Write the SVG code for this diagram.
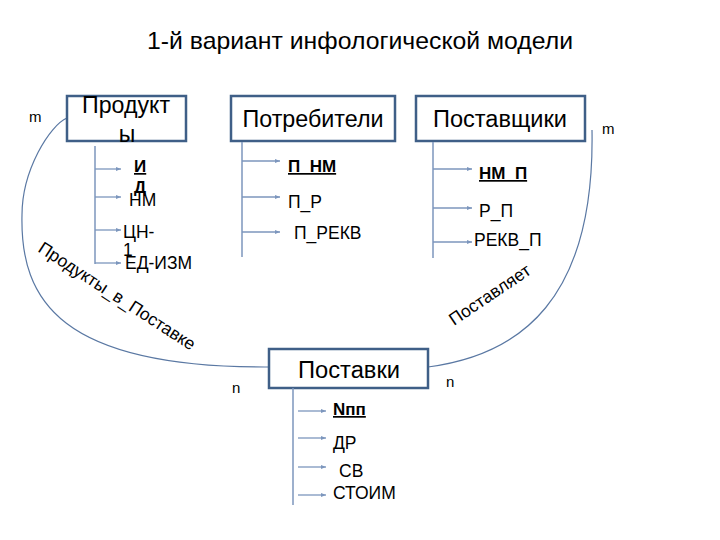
<svg xmlns="http://www.w3.org/2000/svg" width="720" height="540" viewBox="0 0 720 540">
<defs>
<marker id="ah" markerWidth="6" markerHeight="6" refX="5" refY="3" orient="auto" markerUnits="userSpaceOnUse">
<path d="M0,1 L5,3 L0,5 z" fill="#7c96bd"/>
</marker>
<style>
text{font-family:"Liberation Sans",Arial,sans-serif;fill:#000}
.box{fill:#fff;stroke:#3f5f87;stroke-width:2.5}
.bl{font-size:23px;text-anchor:middle}
.at{font-size:17.5px}
.key{font-size:17px;font-weight:bold;text-decoration:underline}
.vl{stroke:#7c96bd;stroke-width:1.5;fill:none}
.ar{stroke:#7c96bd;stroke-width:1.3;fill:none;marker-end:url(#ah)}
.arc{stroke:#5a78a3;stroke-width:1.2;fill:none}
.card{font-size:15px}
.rel{font-size:17.5px}
</style>
</defs>
<rect width="720" height="540" fill="#fff"/>
<text x="360" y="49" font-size="24" text-anchor="middle" textLength="426" lengthAdjust="spacingAndGlyphs">1-й вариант инфологической модели</text>

<g id="connectors">
<path class="arc" d="M67,118 C50,125 22,170 22,215 C20,300 60,368 269,367"/>
<path class="arc" d="M428,367 C520,355 595,300 592,130"/>
<text class="rel" transform="translate(37,251) rotate(33)">Продукты_в_Поставке</text>
<text class="rel" transform="translate(454,326) rotate(-34)">Поставляет</text>
<text class="card" x="29" y="122">m</text>
<text class="card" x="602" y="134">m</text>
<text class="card" x="232" y="393">n</text>
<text class="card" x="446" y="387">n</text>
</g>

<g id="products">
<rect class="box" x="67" y="96" width="119" height="45"/>
<text class="bl" x="126" y="113" textLength="88" lengthAdjust="spacingAndGlyphs">Продукт</text>
<text class="bl" x="127" y="142">ы</text>
<path class="vl" d="M95,146 V264"/>
<path class="ar" d="M95,169 H121"/>
<path class="ar" d="M95,197 H121"/>
<path class="ar" d="M95,230 H121"/>
<path class="ar" d="M95,263 H121"/>
<text class="key" x="134" y="172">И</text>
<text class="key" x="134" y="193">Д</text>
<text class="at" x="129" y="206">НМ</text>
<text class="at" x="123" y="238">ЦН-</text>
<text class="at" x="123" y="256">1</text>
<text class="at" x="125" y="269">ЕД-ИЗМ</text>
</g>

<g id="consumers">
<rect class="box" x="231" y="96" width="164" height="45"/>
<text class="bl" x="313" y="127" textLength="141" lengthAdjust="spacingAndGlyphs">Потребители</text>
<path class="vl" d="M242,142 V257"/>
<path class="ar" d="M242,161 H280"/>
<path class="ar" d="M242,197 H280"/>
<path class="ar" d="M242,232 H280"/>
<text class="key" x="288" y="172">П_НМ</text>
<text class="at" x="288" y="208">П_Р</text>
<text class="at" x="294" y="239">П_РЕКВ</text>
</g>

<g id="suppliers">
<rect class="box" x="416" y="96" width="169" height="45"/>
<text class="bl" x="500" y="127" textLength="134" lengthAdjust="spacingAndGlyphs">Поставщики</text>
<path class="vl" d="M433,142 V258"/>
<path class="ar" d="M433,169 H472"/>
<path class="ar" d="M433,208 H472"/>
<path class="ar" d="M433,242 H472"/>
<text class="key" x="479" y="179">НМ_П</text>
<text class="at" x="479" y="217">Р_П</text>
<text class="at" x="474" y="246">РЕКВ_П</text>
</g>

<g id="deliveries">
<rect class="box" x="269" y="349" width="159" height="39"/>
<text class="bl" x="349" y="378" font-size="25" textLength="102" lengthAdjust="spacingAndGlyphs">Поставки</text>
<path class="vl" d="M293,388 V505"/>
<path class="ar" d="M298,411 H326"/>
<path class="ar" d="M298,438 H326"/>
<path class="ar" d="M298,467 H326"/>
<path class="ar" d="M298,495 H326"/>
<text class="key" x="333" y="415" font-size="16">Nпп</text>
<text class="at" x="333" y="449">ДР</text>
<text class="at" x="339" y="477">СВ</text>
<text class="at" x="333" y="499">СТОИМ</text>
</g>
</svg>
